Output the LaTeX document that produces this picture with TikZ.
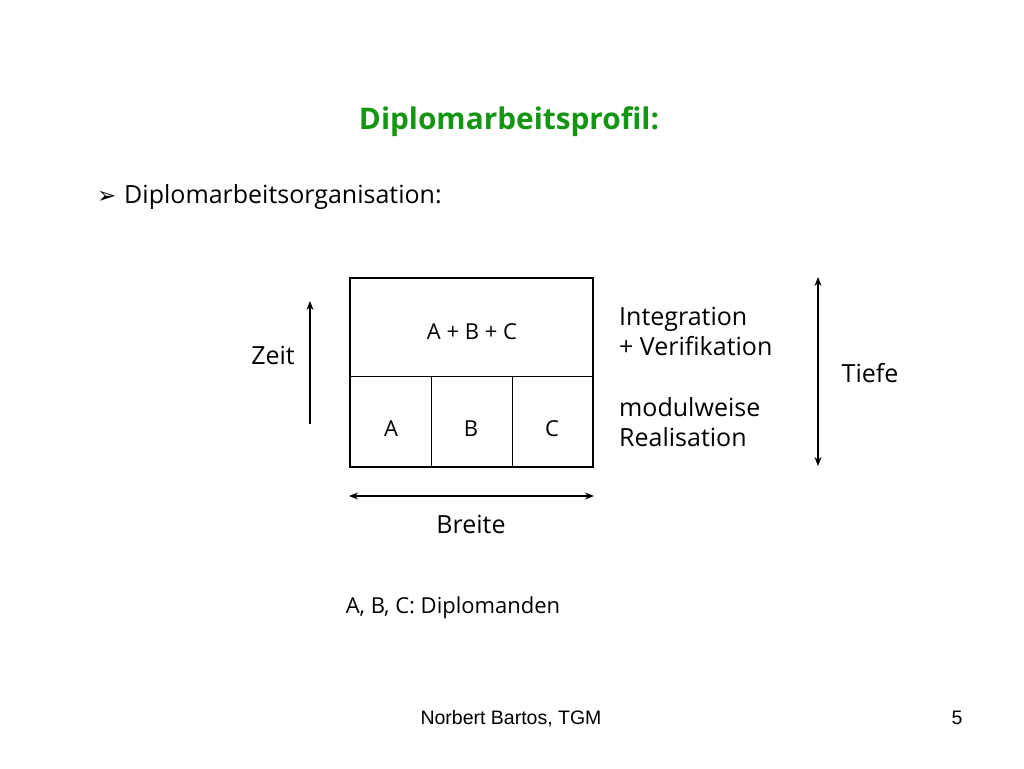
\documentclass[tikz,border=0pt]{standalone}
\usepackage{fontspec}
\setmainfont{Open Sans}
\newfontfamily\arialfont{Liberation Sans}
\newfontfamily\symfont{DejaVu Sans}
\usetikzlibrary{arrows.meta}
\definecolor{titlegreen}{RGB}{20,150,20}
\tikzset{
  lbl/.style={inner sep=0pt, anchor=base, font=\fontsize{25}{30}\selectfont},
  lblw/.style={lbl, anchor=base west},
  cell/.style={inner sep=0pt, anchor=base, font=\fontsize{22}{24}\selectfont},
  dim/.style={line width=1.2pt, -{Stealth[length=9pt,width=7pt]}},
  dimboth/.style={line width=1.2pt, {Stealth[length=9pt,width=7pt]}-{Stealth[length=9pt,width=7pt]}},
  foottxt/.style={inner sep=0pt, anchor=base, font=\arialfont\fontsize{19.5}{22}\selectfont},
}
\begin{document}
\begin{tikzpicture}[x=1pt,y=-1pt]
\useasboundingbox (0,0) rectangle (1024,768);
\fill[white] (0,0) rectangle (1024,768);
% title
\node[inner sep=0pt, anchor=base, text=titlegreen, font=\fontsize{29.8}{34}\bfseries\selectfont] (title) at (509,129) {Diplomarbeitsprofil:};
% bullet line
\node[inner sep=0pt, anchor=base west, font=\symfont\fontsize{23}{23}\selectfont] (bul) at (97,203) {➢};
\node[lblw] (sub) at (124,203) {Diplomarbeitsorganisation:};
% box
\coordinate (tl) at (350,278);
\coordinate (br) at (593,467);
\draw[line width=0.9pt] (350,376) -- (593,376);
\draw[line width=0.9pt] (431,376) -- (431,467);
\draw[line width=0.9pt] (512,376) -- (512,467);
\draw[line width=2.6pt] (tl) rectangle (br);
\node[cell] (abc) at (472,339) {A + B + C};
\node[cell] (a) at (391,436) {A};
\node[cell] (b) at (471,436) {B};
\node[cell] (c) at (552,436) {C};
% Zeit
\coordinate (z0) at (310,424);
\coordinate (z1) at (310,301);
\draw[dim] (z0) -- (z1);
\node[lbl] (zeit) at (273,364) {Zeit};
% Breite
\coordinate (b0) at (349,496);
\coordinate (b1) at (594,496);
\draw[dimboth] (b0) -- (b1);
\node[lbl] (breite) at (471,533) {Breite};
% Tiefe
\coordinate (t0) at (818,277);
\coordinate (t1) at (818,466);
\draw[dimboth] (t0) -- (t1);
\node[lbl] (tiefe) at (870,382) {Tiefe};
% right text
\node[lblw] (int) at (619,325) {Integration};
\node[lblw] (ver) at (619,355) {+ Verifikation};
\node[lblw] (mod) at (619,416) {modulweise};
\node[lblw] (rea) at (619,446) {Realisation};
% legend
\node[cell] (leg) at (453,613) {A, B, C: Diplomanden};
% footer
\node[foottxt] (foot) at (511,724) {Norbert Bartos, TGM};
\node[foottxt] (page) at (957,724) {5};
\end{tikzpicture}
\end{document}
